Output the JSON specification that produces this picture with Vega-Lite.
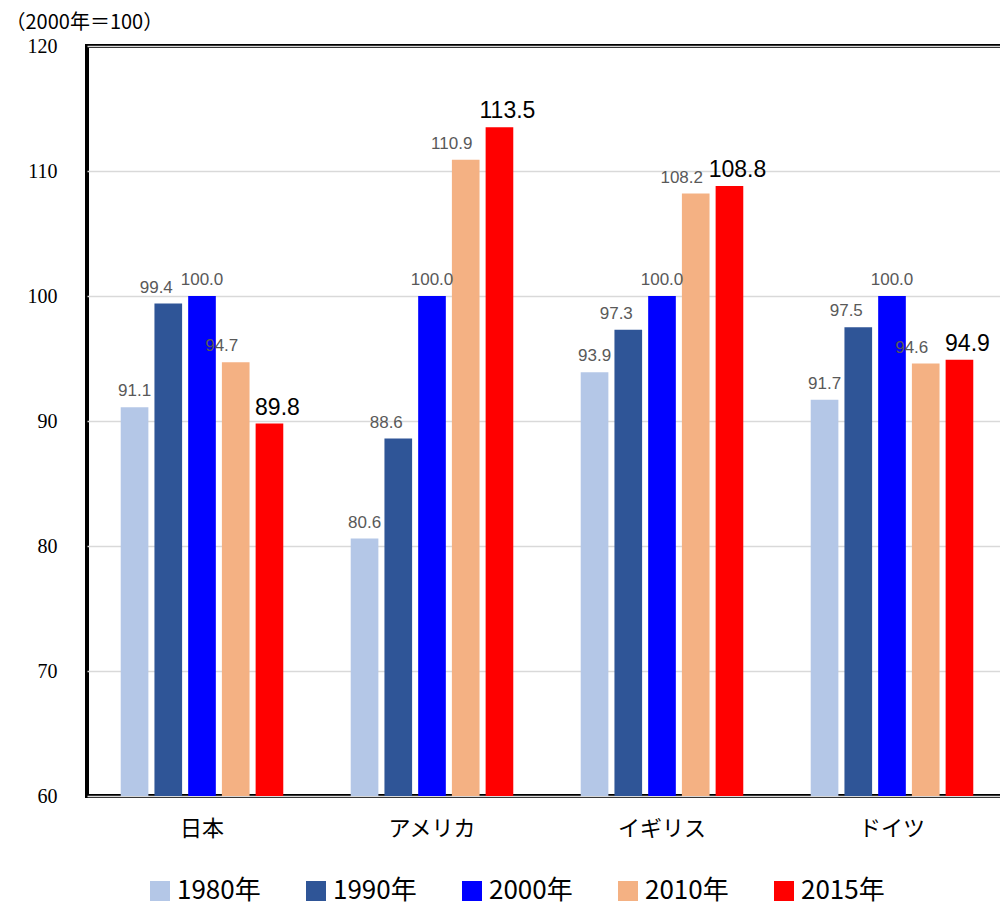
{
  "$schema": "https://vega.github.io/schema/vega-lite/v6.json",
  "autosize": {"type": "none"},
  "width": 920,
  "height": 750,
  "padding": {"left": 87, "top": 46, "right": 0, "bottom": 116},
  "background": "white",
  "config": {
    "view": {"stroke": "black", "strokeWidth": 4},
    "font": "Noto Sans CJK JP"
  },
  "data": {
    "values": [
      {"country": "日本", "year": "1980年", "v": 91.1},
      {"country": "日本", "year": "1990年", "v": 99.4},
      {"country": "日本", "year": "2000年", "v": 100.0},
      {"country": "日本", "year": "2010年", "v": 94.7},
      {"country": "日本", "year": "2015年", "v": 89.8},
      {"country": "アメリカ", "year": "1980年", "v": 80.6},
      {"country": "アメリカ", "year": "1990年", "v": 88.6},
      {"country": "アメリカ", "year": "2000年", "v": 100.0},
      {"country": "アメリカ", "year": "2010年", "v": 110.9},
      {"country": "アメリカ", "year": "2015年", "v": 113.5},
      {"country": "イギリス", "year": "1980年", "v": 93.9},
      {"country": "イギリス", "year": "1990年", "v": 97.3},
      {"country": "イギリス", "year": "2000年", "v": 100.0},
      {"country": "イギリス", "year": "2010年", "v": 108.2},
      {"country": "イギリス", "year": "2015年", "v": 108.8},
      {"country": "ドイツ", "year": "1980年", "v": 91.7},
      {"country": "ドイツ", "year": "1990年", "v": 97.5},
      {"country": "ドイツ", "year": "2000年", "v": 100.0},
      {"country": "ドイツ", "year": "2010年", "v": 94.6},
      {"country": "ドイツ", "year": "2015年", "v": 94.9}
    ]
  },
  "encoding": {
    "x": {
      "field": "country", "type": "nominal", "sort": null,
      "scale": {"paddingInner": 0, "paddingOuter": 0},
      "axis": {"title": null, "labelAngle": 0, "labelFontSize": 22, "labelColor": "black", "labelPadding": 22, "domain": false, "ticks": false, "labelFont": "Noto Sans CJK JP"}
    },
    "xOffset": {
      "field": "year", "type": "nominal", "sort": null,
      "scale": {"paddingInner": 0.18, "paddingOuter": 1.05}
    },
    "y": {
      "field": "v", "type": "quantitative",
      "scale": {"domain": [60, 120], "zero": false},
      "axis": {"title": "（2000年＝100）", "titleAngle": 0, "titleAnchor": "end", "titleAlign": "left", "titleX": -82, "titleY": -14, "titleFontSize": 20, "titleFontWeight": "normal", "titleFont": "Noto Sans CJK JP", "titleColor": "black",
        "values": [60, 70, 80, 90, 100, 110, 120], "labelFontSize": 20, "labelFont": "Liberation Serif, serif", "labelColor": "black", "labelPadding": 30,
        "domain": false, "ticks": false, "gridColor": "#d9d9d9", "gridWidth": 1.5}
    }
  },
  "layer": [
    {
      "mark": {"type": "bar", "clip": true},
      "encoding": {
        "color": {
          "field": "year", "type": "nominal", "sort": null,
          "scale": {"range": ["#b4c7e7", "#2f5597", "#0000ff", "#f4b183", "#ff0000"]},
          "legend": {"title": null, "orient": "none", "legendX": 60, "legendY": 832, "direction": "horizontal", "columns": 5,
            "symbolType": "square", "symbolSize": 400, "symbolStrokeWidth": 0, "labelFontSize": 26, "labelColor": "black", "columnPadding": 42, "labelFont": "Noto Sans CJK JP"}
        }
      }
    },
    {
      "transform": [{"filter": "datum.year == '1980年' || datum.year == '2000年'"}],
      "mark": {"type": "text", "dy": -16, "fontSize": 17, "color": "#595959", "font": "Liberation Sans", "clip": true},
      "encoding": {"text": {"field": "v", "type": "quantitative", "format": ".1f"}}
    },
    {
      "transform": [{"filter": "datum.year == '1990年'"}],
      "mark": {"type": "text", "dy": -16, "dx": -12, "fontSize": 17, "color": "#595959", "font": "Liberation Sans", "clip": true},
      "encoding": {"text": {"field": "v", "type": "quantitative", "format": ".1f"}}
    },
    {
      "transform": [{"filter": "datum.year == '2010年'"}],
      "mark": {"type": "text", "dy": -16, "dx": -14, "fontSize": 17, "color": "#595959", "font": "Liberation Sans", "clip": true},
      "encoding": {"text": {"field": "v", "type": "quantitative", "format": ".1f"}}
    },
    {
      "transform": [{"filter": "datum.year == '2015年'"}],
      "mark": {"type": "text", "dy": -16, "dx": 8, "fontSize": 23, "color": "black", "font": "Liberation Sans", "clip": true},
      "encoding": {"text": {"field": "v", "type": "quantitative", "format": ".1f"}}
    }
  ]
}
